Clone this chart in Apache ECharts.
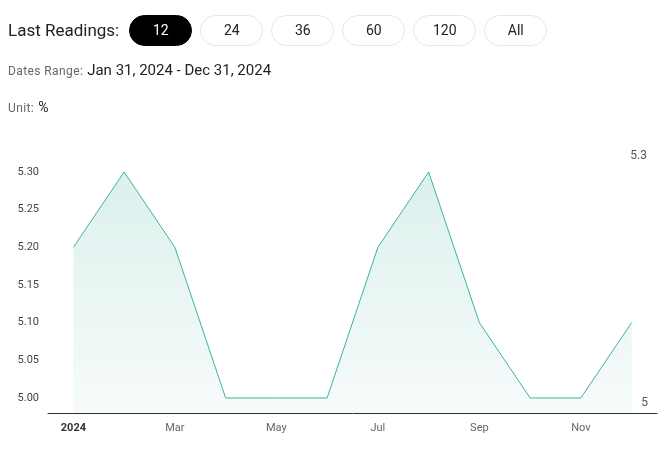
<!DOCTYPE html>
<html><head><meta charset="utf-8">
<script src="https://cdn.jsdelivr.net/npm/echarts@6/dist/echarts.min.js"></script>
<style>
html,body{margin:0;padding:0;background:#fff;width:666px;height:456px;overflow:hidden;font-family:Roboto,"Noto Sans",sans-serif;}
#hdr{position:absolute;left:0;top:0;width:666px;z-index:2;}
.row1{position:absolute;left:8px;top:14px;height:32px;display:flex;align-items:center;}
.lbl{font-size:17px;color:#222;margin-right:10px;}
.btn{width:61px;height:29px;border:1px solid #e6e6e6;border-radius:16px;display:flex;align-items:center;justify-content:center;font-size:14px;color:#222;margin-right:8px;box-sizing:content-box;}
.btn.on{background:#000;color:#fff;border-color:#000;}
.row2{position:absolute;left:8px;top:60px;white-space:nowrap;}
.row3{position:absolute;left:8px;top:97px;white-space:nowrap;}
.sm{font-size:12px;color:#666;letter-spacing:0.4px;}
.md{font-size:15px;color:#222;}
#chart{position:absolute;left:0;top:0;width:666px;height:456px;z-index:1;}
</style></head>
<body>
<div id="chart"></div>
<div id="hdr">
  <div class="row1"><span class="lbl">Last Readings:</span>
    <div class="btn on">12</div><div class="btn">24</div><div class="btn">36</div><div class="btn">60</div><div class="btn">120</div><div class="btn">All</div>
  </div>
  <div class="row2"><span class="sm">Dates Range:</span> <span class="md">Jan 31, 2024 - Dec 31, 2024</span></div>
  <div class="row3"><span class="sm">Unit:</span> <span class="md" style="font-size:14px">%</span></div>
</div>
<script>
const categories = ['2024','Feb','Mar','Apr','May','Jun','Jul','Aug','Sep','Oct','Nov','Dec'];
const values = [5.2, 5.3, 5.2, 5.0, 5.0, 5.0, 5.2, 5.3, 5.1, 5.0, 5.0, 5.1];
const yTicks = [5.00, 5.05, 5.10, 5.15, 5.20, 5.25, 5.30];
const maxLabel = '5.3';
const minLabel = '5';

const chart = echarts.init(document.getElementById('chart'));
chart.setOption({
  animation: false,
  grid: {left: 48, right: 9, top: 172, bottom: 43},
  xAxis: {
    type: 'category',
    data: categories,
    boundaryGap: true,
    axisLine: {lineStyle: {color: '#2b2f3a', width: 1}},
    axisTick: {alignWithLabel: true, interval: 1, length: 4, lineStyle: {color: '#2b2f3a'}},
    axisLabel: {
      interval: 1, color: '#666', fontSize: 11, margin: 10, fontFamily: 'Roboto',
      formatter: function (v, i) { return i === 0 ? '{y|' + v + '}' : v; },
      rich: {y: {color: '#333', fontSize: 11, fontWeight: 'bold', fontFamily: 'Roboto'}}
    }
  },
  yAxis: {
    type: 'value',
    min: 4.98, max: 5.3,
    splitLine: {show: false},
    axisLine: {show: false},
    axisTick: {show: false},
    axisLabel: {
      customValues: yTicks, color: '#444', fontSize: 11, margin: 9, fontFamily: 'Roboto',
      formatter: function (v) { return v.toFixed(2); }
    }
  },
  graphic: [
    {type: 'text', right: 19, top: 150, style: {text: maxLabel, fill: '#555', font: '12px Roboto'}},
    {type: 'text', right: 18, top: 397, style: {text: minLabel, fill: '#555', font: '12px Roboto'}}
  ],
  series: [{
    type: 'line',
    data: values,
    symbol: 'none',
    lineStyle: {color: '#3db1a2', width: 1},
    areaStyle: {
      color: new echarts.graphic.LinearGradient(0, 0, 0, 1, [
        {offset: 0, color: '#cce9e4'},
        {offset: 1, color: '#f2f9f8'}
      ])
    }
  }]
});
</script>
</body></html>
